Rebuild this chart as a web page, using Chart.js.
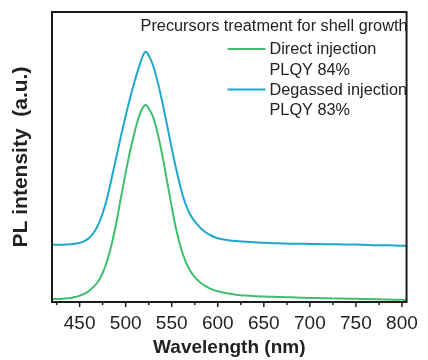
<!DOCTYPE html>
<html>
<head>
<meta charset="utf-8">
<script src="https://cdn.jsdelivr.net/npm/chart.js@4.4.1/dist/chart.umd.min.js"></script>
<style>
  html, body { margin: 0; padding: 0; background: #ffffff; }
  #wrap { position: relative; width: 428px; height: 360px; }
</style>
</head>
<body>
<div id="wrap"><canvas id="c" width="428" height="360"></canvas></div>
<script>
// Wavelength grid (nm)
const wavelengths = [
  420,425,430,435,440,445,450,455,460,465,470,475,480,485,490,495,500,505,510,515,
  520,522,525,530,535,540,545,550,555,560,565,570,575,580,585,590,595,600,
  610,620,630,640,650,660,670,680,690,700,710,720,730,740,750,760,770,780,790,800,805
];
// Direct injection (green) PL intensity, arbitrary units
const directInjection = [
  1.0,1.0,1.1,1.2,1.4,1.7,2.2,2.8,3.8,5.2,7.0,10.0,14.3,20.2,27.6,36.2,44.6,52.3,59.0,64.4,
  67.6,67.9,66.8,63.6,57.8,50.2,41.6,32.8,24.8,18.6,14.0,10.8,8.6,7.0,5.8,4.9,4.2,3.7,
  3.0,2.5,2.2,2.0,1.9,1.8,1.7,1.6,1.5,1.4,1.35,1.3,1.2,1.15,1.1,1.0,0.95,0.9,0.8,0.75,0.7
];
// Degassed injection (blue) PL intensity, arbitrary units (vertically offset)
const degassedInjection = [
  19.7,19.7,19.7,19.8,19.9,20.1,20.4,21.0,22.0,23.8,26.5,30.5,36.0,43.0,50.2,57.4,64.2,70.6,76.4,81.6,
  85.8,86.3,85.1,81.3,75.6,68.6,60.9,53.0,45.6,39.0,33.8,30.2,27.8,25.9,24.5,23.4,22.6,22.0,
  21.4,21.0,20.8,20.6,20.4,20.3,20.2,20.1,20.1,20.0,20.0,19.9,19.9,19.8,19.8,19.7,19.6,19.6,19.5,19.4,19.4
];
const seriesNames = ['Direct injection', 'Degassed injection'];
const seriesNotes = ['PLQY 84%', 'PLQY 83%'];
const legendTitle = 'Precursors treatment for shell growth';
const xTitle = 'Wavelength (nm)';
const yTitle = 'PL intensity  (a.u.)';
const xMin = 420, xMax = 805, xMajorStep = 50, xMinorStep = 25;

const GREEN = '#3fbf6e';
const BLUE = '#1fa7cc';
const AXIS = '#1c1c1c';
const TEXT = '#222222';
const FONT = '"Liberation Sans", Arial, Helvetica, sans-serif';

const toPts = (xs, ys) => xs.map((x, i) => ({x: x, y: ys[i]}));

const framePlugin = {
  id: 'frameTicks',
  afterDatasetsDraw(chart) {
    const {ctx, chartArea: a, scales} = chart;
    ctx.save();
    ctx.strokeStyle = AXIS;
    ctx.lineWidth = 2;
    ctx.strokeRect(a.left, a.top, a.right - a.left, a.bottom - a.top);
    ctx.lineWidth = 1.5;
    const xs = scales.x;
    for (let v = 425; v <= xMax; v += xMinorStep) {
      const px = xs.getPixelForValue(v);
      const len = (v % xMajorStep === 0) ? 5 : 3;
      ctx.beginPath();
      ctx.moveTo(px, a.bottom);
      ctx.lineTo(px, a.bottom + len);
      ctx.stroke();
    }
    ctx.restore();
  }
};

const legendPlugin = {
  id: 'customLegend',
  afterDraw(chart) {
    const {ctx} = chart;
    ctx.save();
    ctx.fillStyle = TEXT;
    ctx.textBaseline = 'middle';
    ctx.font = '16.3px ' + FONT;
    ctx.textAlign = 'right';
    ctx.fillText(legendTitle, 407.5, 27);
    ctx.textAlign = 'left';
    const colors = [GREEN, BLUE];
    const rowY = [50, 90.5];
    for (let i = 0; i < seriesNames.length; i++) {
      ctx.strokeStyle = colors[i];
      ctx.lineWidth = 2;
      ctx.beginPath();
      ctx.moveTo(227.5, rowY[i] - 1);
      ctx.lineTo(265.5, rowY[i] - 1);
      ctx.stroke();
      ctx.fillStyle = TEXT;
      ctx.fillText(seriesNames[i], 269.5, rowY[i]);
      ctx.fillText(seriesNotes[i], 269.5, rowY[i] + 20.5);
    }
    ctx.restore();
  }
};

new Chart(document.getElementById('c'), {
  type: 'line',
  data: {
    datasets: [
      { label: seriesNames[0], data: toPts(wavelengths, directInjection), borderColor: GREEN, borderWidth: 2,
        pointRadius: 0, fill: false, cubicInterpolationMode: 'monotone' },
      { label: seriesNames[1], data: toPts(wavelengths, degassedInjection), borderColor: BLUE, borderWidth: 2,
        pointRadius: 0, fill: false, cubicInterpolationMode: 'monotone' }
    ]
  },
  options: {
    responsive: false,
    animation: false,
    devicePixelRatio: 1,
    layout: { padding: { top: 12, right: 15, left: 0, bottom: 0 } },
    plugins: { legend: { display: false }, tooltip: { enabled: false } },
    scales: {
      x: {
        type: 'linear', min: xMin, max: xMax,
        grid: { display: false, drawTicks: false },
        border: { display: false },
        ticks: {
          stepSize: xMinorStep, includeBounds: false, autoSkip: false, maxRotation: 0,
          padding: 10, color: TEXT, font: { family: FONT, size: 19 },
          callback: (v) => (v % xMajorStep === 0 ? String(v) : '')
        },
        title: { display: true, text: xTitle, color: TEXT, padding: { top: 0, bottom: 1 },
                 font: { family: FONT, size: 19, weight: 'bold' } },
        afterFit: (s) => { s.height = 58; }
      },
      y: {
        type: 'linear', min: 0, max: 100,
        grid: { display: false, drawTicks: false },
        border: { display: false },
        ticks: { display: false },
        title: { display: true, text: yTitle, color: TEXT, padding: { top: 9, bottom: 0 },
                 font: { family: FONT, size: 21, weight: 'bold' } },
        afterFit: (s) => { s.width = 52; }
      }
    }
  },
  plugins: [framePlugin, legendPlugin]
});
</script>
</body>
</html>
